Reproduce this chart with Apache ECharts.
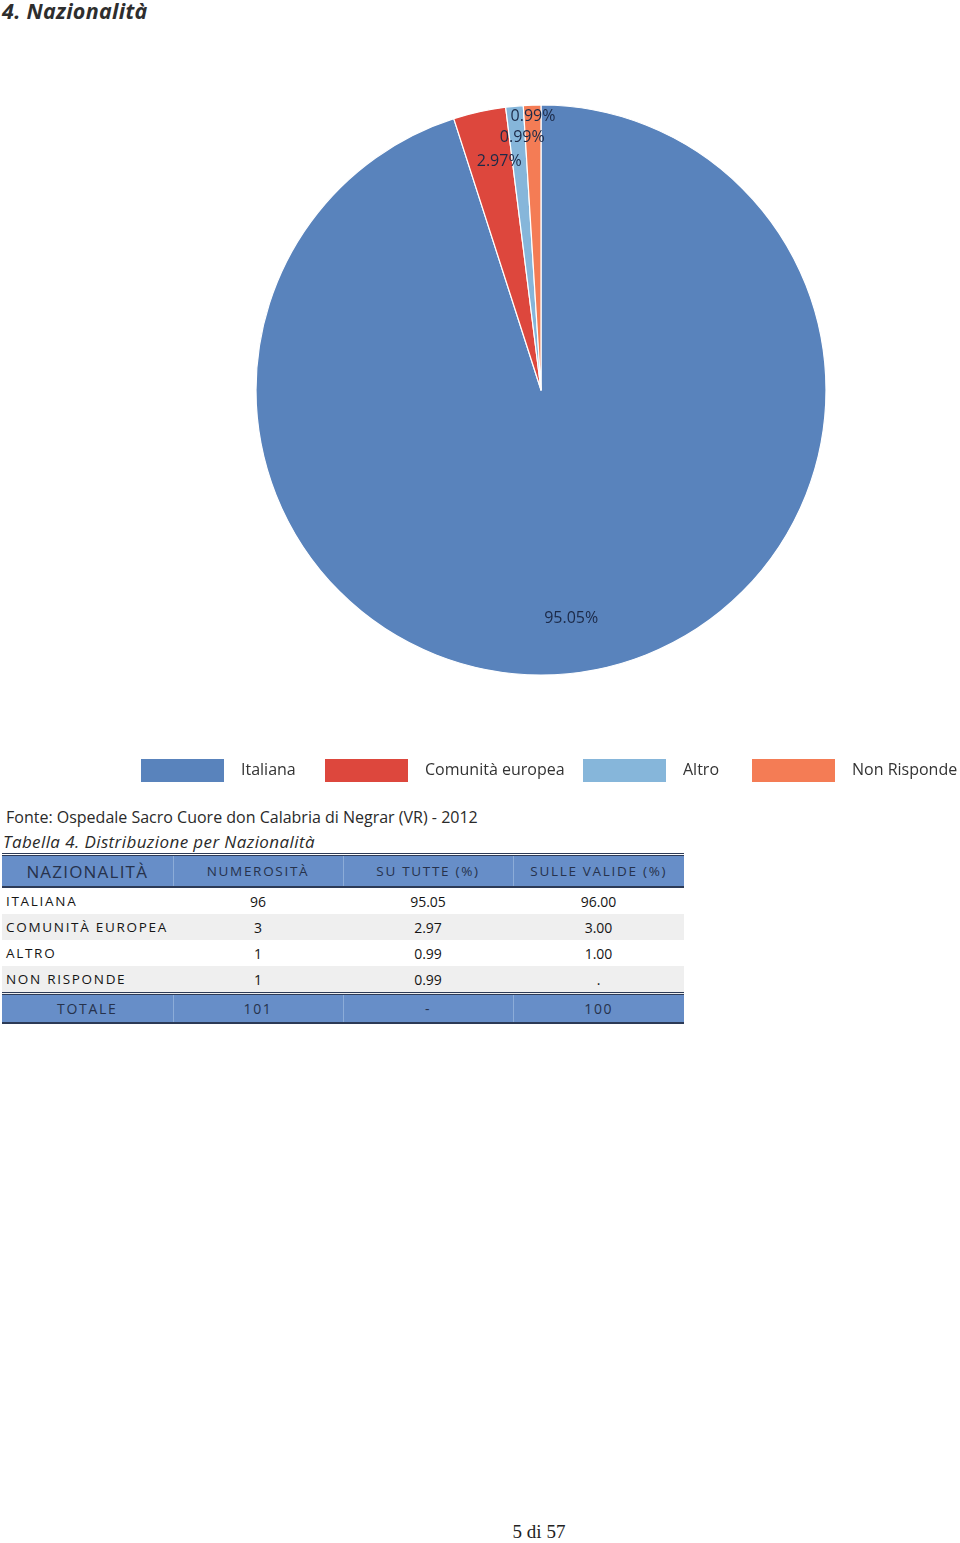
<!DOCTYPE html>
<html>
<head>
<meta charset="utf-8">
<script src="https://cdn.jsdelivr.net/npm/echarts@6/dist/echarts.min.js"></script>
<style>
  html, body { margin: 0; padding: 0; background: #fff; }
  body { width: 960px; height: 1543px; position: relative; overflow: hidden; }
  #chart { position: absolute; left: 0; top: 0; width: 960px; height: 800px; }
  .title { position: absolute; left: 2px; top: -4px; font-family: "Open Sans", sans-serif; font-weight: bold; font-style: italic; font-size: 21.5px; color: #2e2e2e; letter-spacing: 0.3px; }
  .source { position: absolute; left: 6px; top: 806px; font-family: "Open Sans", sans-serif; font-size: 16px; color: #2a2a2a; }
  .caption { position: absolute; left: 3px; top: 830px; font-family: "Open Sans", sans-serif; font-style: italic; font-size: 17px; letter-spacing: 0.4px; color: #2a2a2a; }
  table { position: absolute; left: 2px; top: 853px; width: 682px; border-collapse: collapse; font-family: "Open Sans", sans-serif; table-layout: fixed; }
  td, th { padding: 0; height: 26px; text-align: center; font-size: 14px; color: #151515; font-weight: normal; }
  thead tr { background: #678ec8; border-top: 3px double #2c3a56; border-bottom: 2px solid #2c3a56; }
  thead th { height: 30px; letter-spacing: 1.7px; color: #26324c; font-size: 13.5px; border-left: 1px solid #8cacd8; }
  thead th:first-child { font-size: 17px; letter-spacing: 1.2px; border-left: none; }
  tbody td:first-child { text-align: left; padding-left: 4px; letter-spacing: 1.7px; font-size: 13.5px; color: #151515; }
  tbody tr:nth-child(even) { background: #efefef; }
  tfoot tr { background: #678ec8; border-top: 3px double #2c3a56; border-bottom: 2px solid #2c3a56; }
  tfoot td { height: 27px; letter-spacing: 1.7px; font-size: 14px; color: #26324c; border-left: 1px solid #8cacd8; }
  tfoot td:first-child { border-left: none; }
  .footer { position: absolute; left: 0; width: 1078px; top: 1521px; text-align: center; font-family: "Liberation Serif", serif; font-size: 19px; color: #222; }
</style>
</head>
<body>
<div class="title">4. Nazionalità</div>
<div id="chart"></div>
<div class="source">Fonte: Ospedale Sacro Cuore don Calabria di Negrar (VR) - 2012</div>
<div class="caption">Tabella 4. Distribuzione per Nazionalità</div>
<table id="tbl">
  <colgroup><col style="width:171px"><col style="width:170px"><col style="width:170px"><col style="width:171px"></colgroup>
  <thead><tr id="head"></tr></thead>
  <tbody id="body"></tbody>
  <tfoot><tr id="foot"></tr></tfoot>
</table>
<div class="footer">5 di 57</div>
<script>
// ---- data ----
const categories = ['Italiana', 'Comunità europea', 'Altro', 'Non Risponde'];
const counts = [96, 3, 1, 1];
const pctAll = ['95.05', '2.97', '0.99', '0.99'];
const pctValid = ['96.00', '3.00', '1.00', '.'];
const tableHeaders = ['NAZIONALITÀ', 'NUMEROSITÀ', 'SU TUTTE (%)', 'SULLE VALIDE (%)'];
const rowLabels = ['ITALIANA', 'COMUNITÀ EUROPEA', 'ALTRO', 'NON RISPONDE'];
const totalRow = ['TOTALE', '101', '-', '100'];

// ---- style / layout ----
const colors = ['#5983bc', '#dd473d', '#86b6da', '#f47c55'];
const legendLeft = [139, 323, 581, 750];
const labelRadiusRatio = [0.81, 0.815, 0.89, 0.96];
const labelAngleShiftDeg = [1.4, 2.1, 1.1, 0.1]; // clockwise shift of label placement
const CX = 541, CY = 390, R = 285;

// table
document.getElementById('head').innerHTML = tableHeaders.map(h => '<th>' + h + '</th>').join('');
document.getElementById('body').innerHTML = rowLabels.map((l, i) =>
  '<tr><td>' + l + '</td><td>' + counts[i] + '</td><td>' + pctAll[i] + '</td><td>' + pctValid[i] + '</td></tr>').join('');
document.getElementById('foot').innerHTML = totalRow.map(t => '<td>' + t + '</td>').join('');

const chart = echarts.init(document.getElementById('chart'), null, { renderer: 'canvas' });
chart.setOption({
  animation: false,
  color: colors,
  legend: categories.map((c, i) => ({
    data: [c],
    left: legendLeft[i],
    top: 757,
    padding: 0,
    icon: 'rect',
    itemWidth: 85,
    itemHeight: 25,
    itemGap: 0,
    selectedMode: false,
    textStyle: { fontFamily: 'Open Sans', fontSize: 16, color: '#333', padding: [0, 0, 0, 11] }
  })),
  series: [{
    type: 'pie',
    center: [CX, CY],
    radius: R,
    startAngle: 90,
    clockwise: true,
    silent: true,
    itemStyle: { borderColor: '#fff', borderWidth: 1.2 },
    label: {
      show: true,
      position: 'inside',
      formatter: '{d}%',
      fontFamily: 'Open Sans',
      fontSize: 16,
      color: '#1c2a48'
    },
    labelLine: { show: false },
    labelLayout: function (p) {
      const r = p.labelRect;
      const mx = r.x + r.width / 2, my = r.y + r.height / 2;
      // angle measured clockwise on screen (y down)
      const a = Math.atan2(my - CY, mx - CX) + labelAngleShiftDeg[p.dataIndex] * Math.PI / 180;
      const rad = labelRadiusRatio[p.dataIndex] * R;
      return { x: CX + Math.cos(a) * rad, y: CY + Math.sin(a) * rad, align: 'center', verticalAlign: 'middle' };
    },
    data: categories.map((c, i) => ({ name: c, value: counts[i] }))
  }]
});
</script>
</body>
</html>
